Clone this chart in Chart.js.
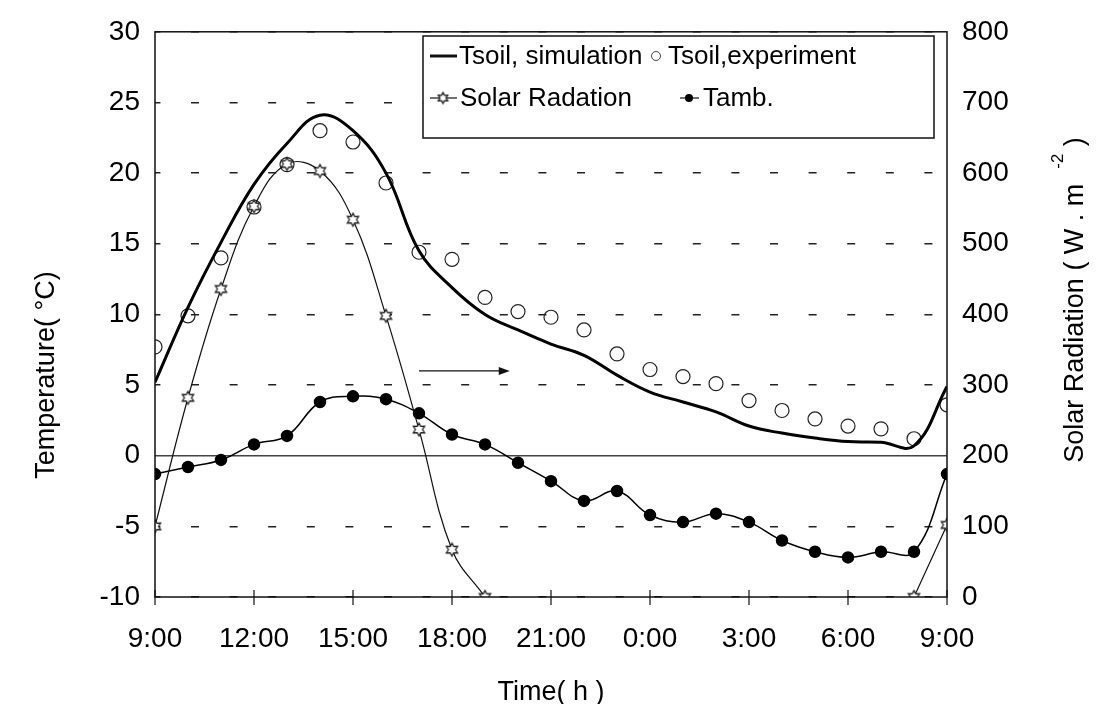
<!DOCTYPE html>
<html>
<head>
<meta charset="utf-8">
<title>Soil temperature and solar radiation</title>
<script src="https://cdn.jsdelivr.net/npm/chart.js@4.4.1/dist/chart.umd.min.js"></script>
<style>
  html, body { margin: 0; padding: 0; background: #fff; }
  #wrap { width: 1096px; height: 704px; }
</style>
</head>
<body>
<div id="wrap"><canvas id="soilChart" width="1096" height="704"></canvas></div>
<script>
// hours counted from 9:00 on the first day
const hours = [0, 1, 2, 3, 4, 5, 6, 7, 8, 9, 10, 11, 12, 13, 14, 15, 16, 17, 18, 19, 20, 21, 22, 23, 24];
const timeLabels = ['9:00', '12:00', '15:00', '18:00', '21:00', '0:00', '3:00', '6:00', '9:00'];

// temperatures in degC (left axis)
const tsoilSim = [5.2, 10.5, 15.1, 19.2, 22.1, 24.1, 23.0, 20.0, 14.5, 11.9, 10.0, 8.9, 7.9, 7.1, 5.7, 4.5, 3.8, 3.1, 2.1, 1.6, 1.25, 1.0, 0.95, 0.7, 4.9];
const tsoilExp = [7.7, 9.9, 14.0, 17.6, 20.6, 23.0, 22.2, 19.3, 14.4, 13.9, 11.2, 10.2, 9.8, 8.9, 7.2, 6.1, 5.6, 5.1, 3.9, 3.2, 2.6, 2.1, 1.9, 1.2, 3.6];
const tamb = [-1.3, -0.8, -0.3, 0.8, 1.4, 3.8, 4.2, 4.0, 3.0, 1.5, 0.8, -0.5, -1.8, -3.2, -2.5, -4.2, -4.7, -4.1, -4.7, -6.0, -6.8, -7.2, -6.8, -6.8, -1.3];

// solar radiation in W/m2 (right axis), no readings during the night
const solar = [100, 282, 436, 553, 613, 603, 534, 398, 237, 67, 0, null, null, null, null, null, null, null, null, null, null, null, null, 0, 102];

const seriesNames = ['Tsoil, simulation', 'Tsoil,experiment', 'Solar Radation', 'Tamb.'];

// arrow pointing at the right axis: from hour, to hour, at temperature
const arrowFrom = [8, 6];
const arrowTo = [10.75, 6];

const FONT = "'Liberation Sans', Arial, sans-serif";
Chart.defaults.font.family = FONT;
Chart.defaults.color = '#000';

function pairs(values) {
    return hours.map((h, i) => ({ x: h, y: values[i] }));
}

// small hollow six point star used as the radiation marker
function makeStar(r) {
    const c = document.createElement('canvas');
    const s = Math.ceil(r * 2 + 4);
    c.width = s;
    c.height = s;
    const g = c.getContext('2d');
    g.translate(s / 2, s / 2);
    g.beginPath();
    for (let i = 0; i < 12; i++) {
        const a = -Math.PI / 2 + i * Math.PI / 6;
        const rr = i % 2 ? r * 0.55 : r;
        g.lineTo(Math.cos(a) * rr, Math.sin(a) * rr);
    }
    g.closePath();
    g.fillStyle = '#fff';
    g.fill();
    g.lineWidth = 1.2;
    g.strokeStyle = '#111';
    g.stroke();
    return c;
}
const starMarker = makeStar(6.5);
const starSmall = makeStar(5.5);

// text with superscript pieces, optionally rotated
function drawRich(ctx, parts, cx, cy, angle, size) {
    ctx.save();
    ctx.translate(cx, cy);
    ctx.rotate(angle);
    ctx.fillStyle = '#000';
    ctx.textBaseline = 'alphabetic';
    const widths = parts.map(p => {
        ctx.font = (p.sup ? size * 0.62 : size) + 'px ' + FONT;
        return ctx.measureText(p.text).width;
    });
    let x = -widths.reduce((s, w) => s + w, 0) / 2;
    const base = size * 0.36;
    parts.forEach((p, i) => {
        ctx.font = (p.sup ? size * 0.62 : size) + 'px ' + FONT;
        ctx.fillText(p.text, x, p.sup ? base - size * 0.72 : base);
        x += widths[i];
    });
    ctx.restore();
}

const decor = {
    id: 'decor',
    afterDatasetsDraw(chart) {
        const { ctx, chartArea: a, scales: { x, y } } = chart;
        ctx.save();

        // frame
        ctx.strokeStyle = '#111';
        ctx.lineWidth = 1.5;
        ctx.strokeRect(a.left, a.top, a.right - a.left, a.bottom - a.top);

        // tick marks across the time axis
        ctx.lineWidth = 1.2;
        x.ticks.forEach(t => {
            const px = x.getPixelForValue(t.value);
            ctx.beginPath();
            ctx.moveTo(px, a.bottom - 7);
            ctx.lineTo(px, a.bottom + 8);
            ctx.stroke();
        });

        // arrow
        const ax0 = x.getPixelForValue(arrowFrom[0]);
        const ax1 = x.getPixelForValue(arrowTo[0]);
        const ay = y.getPixelForValue(arrowFrom[1]);
        ctx.lineWidth = 1.2;
        ctx.beginPath();
        ctx.moveTo(ax0, ay);
        ctx.lineTo(ax1 - 8, ay);
        ctx.stroke();
        ctx.fillStyle = '#111';
        ctx.beginPath();
        ctx.moveTo(ax1, ay);
        ctx.lineTo(ax1 - 11, ay - 4);
        ctx.lineTo(ax1 - 11, ay + 4);
        ctx.closePath();
        ctx.fill();

        // legend box
        const box = { left: 423, top: 36, right: 934, bottom: 138 };
        const rows = [56, 98];
        ctx.fillStyle = '#fff';
        ctx.fillRect(box.left, box.top, box.right - box.left, box.bottom - box.top);
        ctx.strokeStyle = '#111';
        ctx.lineWidth = 1.5;
        ctx.strokeRect(box.left, box.top, box.right - box.left, box.bottom - box.top);

        ctx.font = '26px ' + FONT;
        ctx.fillStyle = '#000';
        ctx.textBaseline = 'middle';
        ctx.textAlign = 'left';

        // Tsoil, simulation
        ctx.lineWidth = 3;
        ctx.beginPath();
        ctx.moveTo(430, rows[0]);
        ctx.lineTo(457, rows[0]);
        ctx.stroke();
        ctx.fillText(seriesNames[0], 459, rows[0] + 1);

        // Tsoil,experiment
        ctx.lineWidth = 1;
        ctx.strokeStyle = '#444';
        ctx.beginPath();
        ctx.arc(656, rows[0], 4.5, 0, Math.PI * 2);
        ctx.stroke();
        ctx.fillText(seriesNames[1], 668, rows[0] + 1);

        // Solar Radation
        ctx.strokeStyle = '#111';
        ctx.lineWidth = 1.2;
        ctx.beginPath();
        ctx.moveTo(430, rows[1]);
        ctx.lineTo(457, rows[1]);
        ctx.stroke();
        ctx.drawImage(starSmall, 443 - starSmall.width / 2, rows[1] - starSmall.height / 2);
        ctx.fillText(seriesNames[2], 460, rows[1] + 1);

        // Tamb.
        ctx.beginPath();
        ctx.moveTo(680, rows[1]);
        ctx.lineTo(699, rows[1]);
        ctx.stroke();
        ctx.fillStyle = '#000';
        ctx.beginPath();
        ctx.arc(689, rows[1], 4, 0, Math.PI * 2);
        ctx.fill();
        ctx.fillText(seriesNames[3], 703, rows[1] + 1);

        ctx.restore();
    },
    afterDraw(chart) {
        const ctx = chart.ctx;
        drawRich(ctx, [{ text: 'Temperature( °C)' }], 44, 375, -Math.PI / 2, 27);
        drawRich(ctx, [{ text: 'Solar Radiation ( W . m  ' }, { text: '-2', sup: true }, { text: ' )' }], 1073, 300, -Math.PI / 2, 27);
        drawRich(ctx, [{ text: 'Time( h )' }], 551, 690, 0, 27);
    }
};

new Chart(document.getElementById('soilChart'), {
    type: 'line',
    data: {
        datasets: [
            {
                label: seriesNames[0],
                data: pairs(tsoilSim),
                yAxisID: 'y',
                borderColor: '#000',
                borderWidth: 3,
                pointRadius: 0,
                tension: 0.4,
                fill: false
            },
            {
                label: seriesNames[1],
                data: pairs(tsoilExp),
                yAxisID: 'y',
                showLine: false,
                pointStyle: 'circle',
                pointRadius: 7,
                borderColor: '#222',
                borderWidth: 1.2,
                backgroundColor: 'rgba(0,0,0,0)'
            },
            {
                label: seriesNames[2],
                data: pairs(solar),
                yAxisID: 'y1',
                borderColor: '#111',
                borderWidth: 1.2,
                pointStyle: starMarker,
                tension: 0.4,
                spanGaps: false,
                fill: false
            },
            {
                label: seriesNames[3],
                data: pairs(tamb),
                yAxisID: 'y',
                borderColor: '#000',
                backgroundColor: '#000',
                borderWidth: 1.5,
                pointRadius: 5.5,
                tension: 0.4,
                fill: false
            }
        ]
    },
    options: {
        responsive: false,
        animation: false,
        events: [],
        layout: { padding: { top: 27, left: 0, right: 0, bottom: 0 } },
        plugins: {
            legend: { display: false },
            tooltip: { enabled: false }
        },
        scales: {
            x: {
                type: 'linear',
                min: 0,
                max: 24,
                grid: { display: false },
                border: { display: false },
                ticks: {
                    stepSize: 3,
                    padding: 17,
                    maxRotation: 0,
                    font: { size: 28 },
                    callback: v => timeLabels[v / 3]
                },
                afterFit: s => { s.height = 107; }
            },
            y: {
                position: 'left',
                min: -10,
                max: 30,
                border: {
                    display: false,
                    dash: c => (c.tick && c.tick.value === 0 ? [] : [8, 30.6]),
                    dashOffset: 2.6
                },
                grid: {
                    drawTicks: false,
                    color: c => (c.tick && c.tick.value === 0 ? '#444' : '#222'),
                    lineWidth: 1.5
                },
                ticks: { stepSize: 5, padding: 15, font: { size: 28 } },
                afterFit: s => { s.width = 155; }
            },
            y1: {
                position: 'right',
                min: 0,
                max: 800,
                border: { display: false },
                grid: { drawOnChartArea: false, drawTicks: false },
                ticks: { stepSize: 100, padding: 15, font: { size: 28 } },
                afterFit: s => { s.width = 149; }
            }
        }
    },
    plugins: [decor]
});
</script>
</body>
</html>
